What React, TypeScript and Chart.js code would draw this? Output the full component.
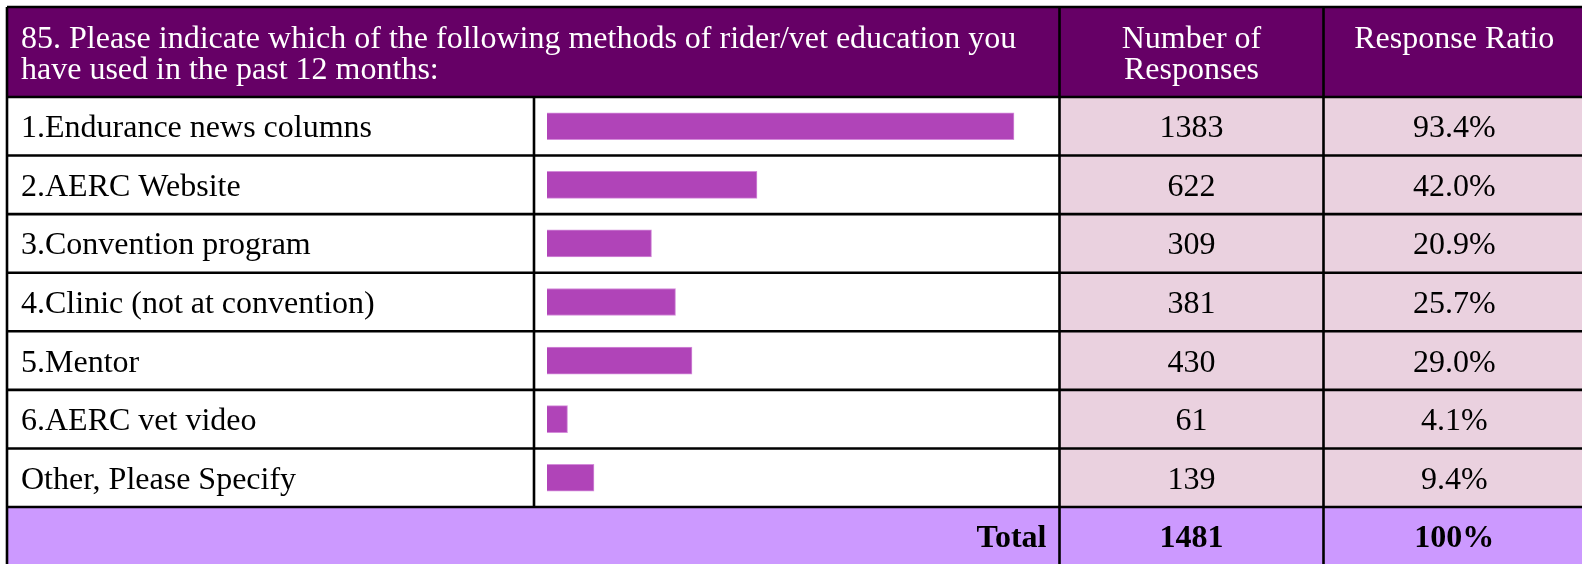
import React, { useEffect, useRef } from 'react';
import { Chart, registerables } from 'chart.js';

Chart.register(...registerables);

// ---- data ----
const questionLines = [
  '85. Please indicate which of the following methods of rider/vet education you',
  'have used in the past 12 months:',
];
const headerCount = ['Number of', 'Responses'];
const headerRatio = ['Response Ratio'];
const categories = [
  '1.Endurance news columns',
  '2.AERC Website',
  '3.Convention program',
  '4.Clinic (not at convention)',
  '5.Mentor',
  '6.AERC vet video',
  'Other, Please Specify',
];
const responses = [1383, 622, 309, 381, 430, 61, 139];
const ratios = [93.4, 42.0, 20.9, 25.7, 29.0, 4.1, 9.4];
const totalLabel = 'Total';
const totalResponses = 1481;
const totalRatio = '100%';

// ---- layout / style ----
const W = 1582;
const H = 564;
const TABLE_LEFT = 7;
const TABLE_TOP = 7;
const TABLE_RIGHT = 1585;
const COL_BAR = 534;
const COL_COUNT = 1059.5;
const COL_RATIO = 1323.5;
const TEXT_X = 21;
const FONT = '"Liberation Serif", "Times New Roman", serif';
const FONT_SIZE = 32;
const PURPLE = '#660066';
const PINK = '#EAD1DF';
const LAVENDER = '#CC99FF';
const BAR = '#B044B8';

const tablePlugin = {
  id: 'surveyTable',
  beforeDatasetsDraw(chart: any) {
    const { ctx, chartArea } = chart;
    ctx.save();
    ctx.fillStyle = '#ffffff';
    ctx.fillRect(0, 0, W, H);
    ctx.fillStyle = PURPLE;
    ctx.fillRect(TABLE_LEFT, TABLE_TOP, TABLE_RIGHT - TABLE_LEFT, chartArea.top - TABLE_TOP);
    ctx.fillStyle = PINK;
    ctx.fillRect(COL_COUNT, chartArea.top, TABLE_RIGHT - COL_COUNT, chartArea.bottom - chartArea.top);
    ctx.fillStyle = LAVENDER;
    ctx.fillRect(TABLE_LEFT, chartArea.bottom, TABLE_RIGHT - TABLE_LEFT, H - chartArea.bottom);
    ctx.restore();
  },
  afterDatasetsDraw(chart: any) {
    const { ctx, chartArea } = chart;
    const y = chart.scales.y;
    const n = categories.length;
    const rowH = (chartArea.bottom - chartArea.top) / n;
    ctx.save();
    ctx.strokeStyle = '#000';
    ctx.lineWidth = 2.6;
    ctx.beginPath();
    for (let i = 0; i <= n; i++) {
      const yy = y.getPixelForValue(i) - rowH / 2;
      ctx.moveTo(TABLE_LEFT, yy);
      ctx.lineTo(TABLE_RIGHT, yy);
    }
    ctx.moveTo(TABLE_LEFT, TABLE_TOP);
    ctx.lineTo(TABLE_RIGHT, TABLE_TOP);
    ctx.moveTo(TABLE_LEFT, TABLE_TOP);
    ctx.lineTo(TABLE_LEFT, H);
    ctx.moveTo(COL_BAR, chartArea.top);
    ctx.lineTo(COL_BAR, chartArea.bottom);
    ctx.moveTo(COL_COUNT, TABLE_TOP);
    ctx.lineTo(COL_COUNT, H);
    ctx.moveTo(COL_RATIO, TABLE_TOP);
    ctx.lineTo(COL_RATIO, H);
    ctx.stroke();

    const countX = (COL_COUNT + COL_RATIO) / 2;
    const ratioX = (COL_RATIO + TABLE_RIGHT) / 2;

    ctx.fillStyle = '#ffffff';
    ctx.font = `${FONT_SIZE}px ${FONT}`;
    ctx.textBaseline = 'alphabetic';
    ctx.textAlign = 'left';
    questionLines.forEach((t, i) => ctx.fillText(t, TEXT_X, 47.5 + i * 31));
    ctx.textAlign = 'center';
    headerCount.forEach((t, i) => ctx.fillText(t, countX, 47.5 + i * 31));
    headerRatio.forEach((t, i) => ctx.fillText(t, ratioX, 47.5 + i * 31));

    ctx.fillStyle = '#000';
    categories.forEach((c, i) => {
      const base = y.getPixelForValue(i) + 11;
      ctx.textAlign = 'left';
      ctx.fillText(c, TEXT_X, base);
      ctx.textAlign = 'center';
      ctx.fillText(String(responses[i]), countX, base);
      ctx.fillText(ratios[i].toFixed(1) + '%', ratioX, base);
    });

    const tBase = (chartArea.bottom + H) / 2 + 11.5;
    ctx.font = `bold ${FONT_SIZE}px ${FONT}`;
    ctx.textAlign = 'right';
    ctx.fillText(totalLabel, COL_COUNT - 13, tBase);
    ctx.textAlign = 'center';
    ctx.fillText(String(totalResponses), countX, tBase);
    ctx.fillText(totalRatio, ratioX, tBase);
    ctx.restore();
  },
};

export default function App() {
  const ref = useRef<HTMLCanvasElement | null>(null);
  useEffect(() => {
    if (!ref.current) return;
    const chart = new Chart(ref.current, {
      type: 'bar',
      data: {
        labels: categories,
        datasets: [
          {
            data: ratios,
            backgroundColor: BAR,
            borderColor: '#D48CDA',
            borderWidth: 1,
            barThickness: 27,
          },
        ],
      },
      options: {
        indexAxis: 'y',
        animation: false,
        responsive: false,
        devicePixelRatio: 1,
        layout: { padding: { left: 547, right: W - 1047, top: 97, bottom: H - 507 } },
        scales: {
          x: { display: false, min: 0, max: 100 },
          y: { display: false },
        },
        plugins: { legend: { display: false }, tooltip: { enabled: false } },
      },
      plugins: [tablePlugin],
    });
    return () => chart.destroy();
  }, []);
  return (
    <div style={{ position: 'fixed', left: 0, top: 0, width: W, height: H, background: '#fff' }}>
      <canvas ref={ref} width={W} height={H} style={{ display: 'block', width: W, height: H }} />
    </div>
  );
}
